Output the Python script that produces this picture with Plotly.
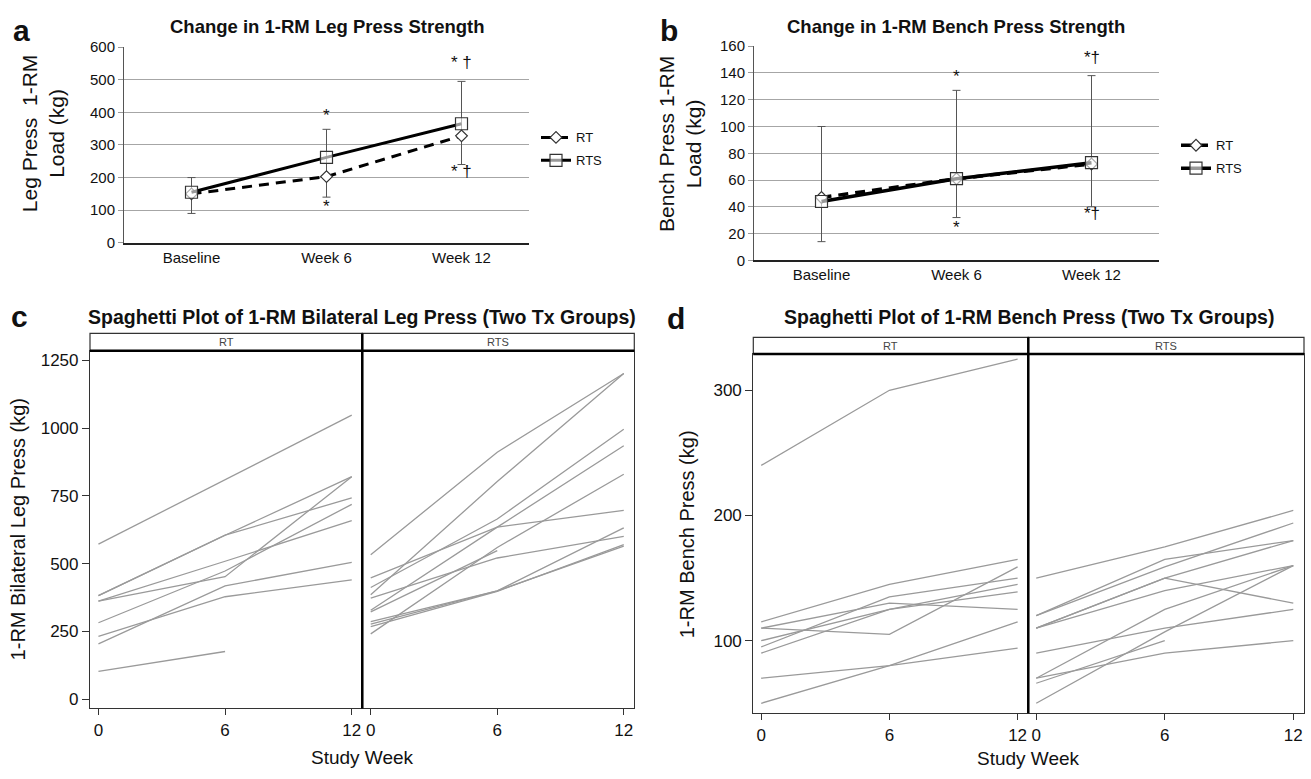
import plotly.graph_objects as go

# ---------------- data ----------------
categories = ["Baseline", "Week 6", "Week 12"]

# panel a: leg press group means (kg)
leg_rt = [150, 203, 328]
leg_rts = [155, 262, 365]
leg_err_low = [90, 140, 240]
leg_err_high = [200, 348, 495]
leg_sig_above = ["", "*", "* †"]
leg_sig_below = ["", "*", "* †"]

# panel b: bench press group means (kg)
bench_rt = [47, 61, 72]
bench_rts = [44, 61, 73]
bench_err_low = [14, 32, 40]
bench_err_high = [100, 127, 138]
bench_sig_above = ["", "*", "*†"]
bench_sig_below = ["", "*", "*†"]

weeks = [0, 6, 12]

# panel c: individual leg press trajectories
leg_spag_rt = [
    [572, 810, 1048],
    [382, 605, 821],
    [382, 605, 743],
    [362, 509, 659],
    [362, 452, 821],
    [282, 473, 719],
    [232, 378, 440],
    [204, 418, 505],
    [103, 176, None],
]
leg_spag_rts = [
    [533, 911, 1202],
    [385, 803, 1202],
    [412, 665, 996],
    [328, 635, 935],
    [448, 635, 697],
    [373, 521, 601],
    [322, 548, None],
    [241, 560, 830],
    [286, 400, 632],
    [277, 400, 565],
    [268, 398, 570],
]

# panel d: individual bench press trajectories
bench_spag_rt = [
    [240, 300, 325],
    [115, 145, 165],
    [110, 130, 125],
    [110, 105, 159],
    [100, 125, 145],
    [95, 135, 150],
    [90, 125, 139],
    [70, 80, 94],
    [50, 80, 115],
]
bench_spag_rts = [
    [150, 175, 204],
    [120, 165, 180],
    [120, 159, 194],
    [110, 150, 130],
    [110, 150, 180],
    [110, 140, 160],
    [90, 110, 125],
    [70, 125, 160],
    [66, 100, None],
    [70, 90, 100],
    [50, 107, 160],
]

# ---------------- styling ----------------
W, H = 1311, 779
FONT = "Liberation Sans, Arial, sans-serif"
GRID = "#a6a6a6"
SPAG = "#9a9a9a"


def px_x(p):
    return p / W


def px_y(p):
    return 1 - p / H


fig = go.Figure()
xcat = list(range(len(categories)))


def add_mean_panel(xa, ya, rt, rts, lo, hi, legend_name, lw):
    mid = [(a + b) / 2 for a, b in zip(lo, hi)]
    half = [(b - a) / 2 for a, b in zip(lo, hi)]
    fig.add_trace(go.Scatter(
        x=xcat, y=mid, mode="markers", xaxis=xa, yaxis=ya,
        marker=dict(size=1, color="rgba(0,0,0,0)"),
        error_y=dict(type="data", array=half, symmetric=True,
                     color="#555555", thickness=1, width=4),
        showlegend=False, hoverinfo="skip"))
    fig.add_trace(go.Scatter(
        x=xcat, y=rt, mode="lines+markers", name="RT", xaxis=xa, yaxis=ya,
        line=dict(color="black", width=lw, dash="10px,7px"),
        marker=dict(symbol="diamond", size=9, color="white",
                    line=dict(color="#333333", width=1.2)),
        legend=legend_name, legendgroup=legend_name + "rt"))
    fig.add_trace(go.Scatter(
        x=xcat, y=rts, mode="lines+markers", name="RTS", xaxis=xa, yaxis=ya,
        line=dict(color="black", width=lw),
        marker=dict(symbol="square", size=12, color="rgba(255,255,255,0.6)",
                    line=dict(color="#333333", width=1.2)),
        legend=legend_name, legendgroup=legend_name + "rts"))


add_mean_panel("x", "y", leg_rt, leg_rts, leg_err_low, leg_err_high, "legend", 3)
add_mean_panel("x2", "y2", bench_rt, bench_rts, bench_err_low, bench_err_high, "legend2", 3.5)


def add_spaghetti(xa, ya, rows):
    for r in rows:
        fig.add_trace(go.Scatter(
            x=weeks, y=r, mode="lines", xaxis=xa, yaxis=ya,
            line=dict(color=SPAG, width=1.3), connectgaps=False,
            showlegend=False, hoverinfo="skip"))


add_spaghetti("x3", "y3", leg_spag_rt)
add_spaghetti("x4", "y4", leg_spag_rts)
add_spaghetti("x5", "y5", bench_spag_rt)
add_spaghetti("x6", "y6", bench_spag_rts)

tick_font = dict(family=FONT, size=15, color="#111111")
big_tick_font = dict(family=FONT, size=17, color="#111111")

cat_x = dict(tickmode="array", tickvals=xcat, ticktext=categories,
             range=[-0.5, len(categories) - 0.5], showgrid=False,
             showline=True, linecolor="#222222", linewidth=1.5,
             ticks="", tickfont=tick_font, zeroline=False, fixedrange=True)

fig.update_layout(
    width=W, height=H, margin=dict(l=0, r=0, t=0, b=0),
    plot_bgcolor="white", paper_bgcolor="white",
    font=dict(family=FONT, color="#111111"),
    xaxis=dict(domain=[px_x(124), px_x(529)], anchor="y", **cat_x),
    yaxis=dict(domain=[px_y(239), px_y(39)], anchor="x", range=[0, 600],
               tickvals=[0, 100, 200, 300, 400, 500, 600],
               showgrid=True, gridcolor=GRID, gridwidth=1,
               showline=True, linecolor="#555555", linewidth=1,
               ticks="outside", ticklen=5, tickcolor="#999999",
               tickfont=tick_font, zeroline=False),
    xaxis2=dict(domain=[px_x(754), px_x(1159)], anchor="y2", **cat_x),
    yaxis2=dict(domain=[px_y(257), px_y(38)], anchor="x2", range=[0, 160],
                tickvals=[0, 20, 40, 60, 80, 100, 120, 140, 160],
                showgrid=True, gridcolor=GRID, gridwidth=1,
                showline=True, linecolor="#555555", linewidth=1,
                ticks="outside", ticklen=5, tickcolor="#999999",
                tickfont=tick_font, zeroline=False),
    legend=dict(x=px_x(536), y=px_y(116), xanchor="left", yanchor="top",
                font=dict(family=FONT, size=13), tracegroupgap=3,
                bgcolor="rgba(0,0,0,0)", itemwidth=30),
    legend2=dict(x=px_x(1176), y=px_y(124), xanchor="left", yanchor="top",
                 font=dict(family=FONT, size=13), tracegroupgap=3,
                 bgcolor="rgba(0,0,0,0)", itemwidth=30),
)

facet_x_common = dict(tickvals=weeks, showgrid=False, zeroline=False,
                      showline=True, mirror=True, linecolor="#333333",
                      linewidth=1.2, ticks="outside", ticklen=6,
                      tickcolor="#333333", tickfont=big_tick_font)
facet_y_common = dict(showgrid=False, zeroline=False, showline=True,
                      mirror=True, linecolor="#333333", linewidth=1.2)

# panel c facets
c_y = [px_y(715), px_y(349.3)]
fig.update_layout(
    xaxis3=dict(domain=[px_x(90), px_x(362.3)], anchor="y3",
                range=[-0.4, 12.5], **facet_x_common),
    yaxis3=dict(domain=c_y, anchor="x3", range=[-34, 1286],
                tickvals=[0, 250, 500, 750, 1000, 1250], ticks="outside",
                ticklen=7, tickcolor="#333333", tickfont=big_tick_font,
                **facet_y_common),
    xaxis4=dict(domain=[px_x(362.3), px_x(634.3)], anchor="y4",
                range=[-0.4, 12.5], **facet_x_common),
    yaxis4=dict(domain=c_y, anchor="x4", matches="y3",
                showticklabels=False, ticks="", **facet_y_common),
)
# panel d facets
d_y = [px_y(720), px_y(352.7)]
fig.update_layout(
    xaxis5=dict(domain=[px_x(753.3), px_x(1028.3)], anchor="y5",
                range=[-0.37, 12.5], **facet_x_common),
    yaxis5=dict(domain=d_y, anchor="x5", range=[42, 329],
                tickvals=[100, 200, 300], ticks="outside",
                ticklen=7, tickcolor="#333333", tickfont=big_tick_font,
                **facet_y_common),
    xaxis6=dict(domain=[px_x(1028.3), px_x(1304)], anchor="y6",
                range=[-0.37, 12.5], **facet_x_common),
    yaxis6=dict(domain=d_y, anchor="x6", matches="y5",
                showticklabels=False, ticks="", **facet_y_common),
)

shapes = []
annotations = []


def facet_decor(xl, yl, xr, yr, header_px, plot_px):
    h = header_px / plot_px
    for xa, ya, label in [(xl, yl, "RT"), (xr, yr, "RTS")]:
        shapes.append(dict(type="rect", xref=xa + " domain", yref=ya + " domain",
                           x0=0, x1=1, y0=1, y1=1 + h,
                           line=dict(color="#333333", width=1.2),
                           fillcolor="white", layer="above"))
        annotations.append(dict(text=label, xref=xa + " domain", yref=ya + " domain",
                                x=0.5, y=1 + h / 2, xanchor="center", yanchor="middle",
                                showarrow=False,
                                font=dict(family=FONT, size=11, color="#444444")))
        shapes.append(dict(type="line", xref=xa + " domain", yref=ya + " domain",
                           x0=0, x1=1, y0=1, y1=1,
                           line=dict(color="black", width=2.5), layer="above"))
    shapes.append(dict(type="line", xref=xl + " domain", yref=yl + " domain",
                       x0=1, x1=1, y0=0, y1=1 + h,
                       line=dict(color="black", width=2.5), layer="above"))


facet_decor("x3", "y3", "x4", "y4", 17.6, 715 - 349.3)
facet_decor("x5", "y5", "x6", "y6", 17.0, 720 - 352.7)


def sig_marks(xa, ya, lo, hi, above, below):
    for i in range(len(categories)):
        if above[i]:
            shift = 7 if "†" in above[i] else 2
            annotations.append(dict(text=above[i], xref=xa, yref=ya, x=xcat[i], y=hi[i],
                                    yanchor="bottom", yshift=shift, showarrow=False,
                                    font=dict(family=FONT, size=17, color="#111111")))
        if below[i]:
            shift = 5 if "†" in below[i] else 2
            annotations.append(dict(text=below[i], xref=xa, yref=ya, x=xcat[i], y=lo[i],
                                    yanchor="top", yshift=shift, showarrow=False,
                                    font=dict(family=FONT, size=17, color="#111111")))


sig_marks("x", "y", leg_err_low, leg_err_high, leg_sig_above, leg_sig_below)
sig_marks("x2", "y2", bench_err_low, bench_err_high, bench_sig_above, bench_sig_below)


def paper_text(text, x, y, size, bold=False, angle=0, color="#111111"):
    t = "<b>" + text + "</b>" if bold else text
    annotations.append(dict(text=t, xref="paper", yref="paper",
                            x=px_x(x), y=px_y(y), xanchor="center", yanchor="middle",
                            showarrow=False, textangle=angle,
                            font=dict(family=FONT, size=size, color=color)))


# panel letters
paper_text("a", 21, 22, 30, bold=True)
paper_text("b", 669, 22, 30, bold=True)
paper_text("c", 19, 314, 30, bold=True)
paper_text("d", 676, 316, 30, bold=True)

# titles
paper_text("Change in 1-RM Leg Press Strength", 327, 18, 18.5, bold=True)
paper_text("Change in 1-RM Bench Press Strength", 956, 18, 18.5, bold=True)
paper_text("Spaghetti Plot of 1-RM Bilateral Leg Press (Two Tx Groups)", 362, 315, 19.5, bold=True)
paper_text("Spaghetti Plot of 1-RM Bench Press (Two Tx Groups)", 1029, 315, 19.5, bold=True)

# axis titles
paper_text("Leg Press  1-RM<br>Load (kg)", 43, 127, 21, angle=-90)
paper_text("Bench Press 1-RM<br>Load (kg)", 680, 138, 21, angle=-90)
paper_text("1-RM Bilateral Leg Press (kg)", 18, 532, 20, angle=-90)
paper_text("1-RM Bench Press (kg)", 687, 537, 20, angle=-90)
paper_text("Study Week", 362, 765, 19)
paper_text("Study Week", 1028, 766, 19)

fig.update_layout(shapes=shapes, annotations=annotations)

fig.write_html("out.html",
               config={"displayModeBar": False},
               post_script="document.body.style.margin='0';document.body.style.padding='0';")
